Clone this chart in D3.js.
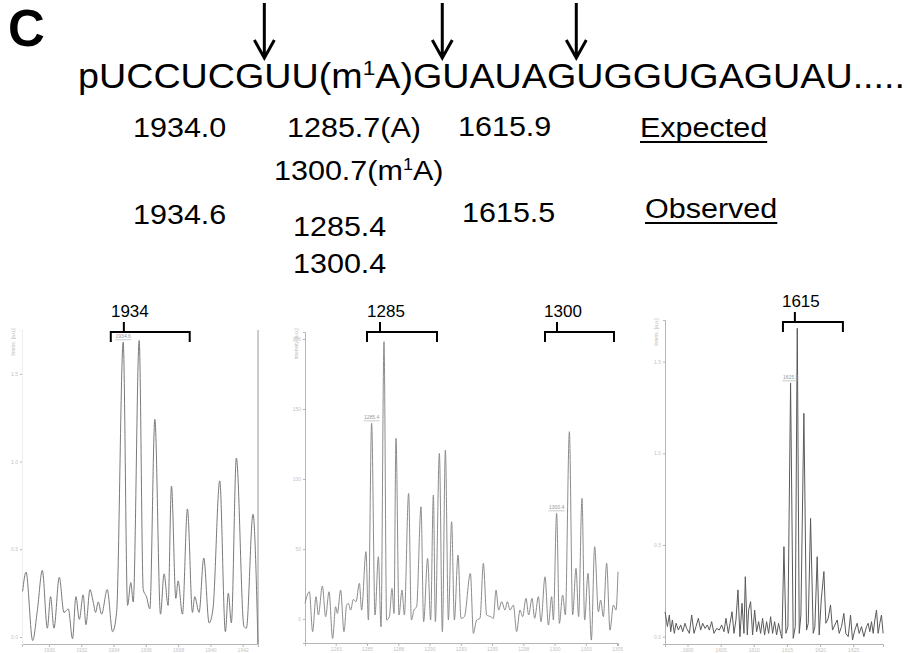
<!DOCTYPE html>
<html>
<head>
<meta charset="utf-8">
<script src="https://cdn.jsdelivr.net/npm/d3@7"></script>
<style>
  body { margin: 0; background: #fff; }
  svg { display: block; }
</style>
</head>
<body>
<div id="figure"></div>
<script>
// ---- sequence and masses ----
var seqHead = "pUCCUCGUU(m";
var seqSup = "1";
var seqTail = "A)GUAUAGUGGUGAGUAU.....";
var cleavageIdx = [7, 15, 20];           // RNase T1 cuts: character index right after each G

var expectedMasses = ["1934.0", "1285.7(A)", "1615.9"];
var observedMasses = ["1934.6", "1285.4", "1615.5"];
var observedExtra = "1300.4";

// ---- spectra: [m/z, intensity] ----
var spec1934 = [
  [1928.37,0.26],[1928.58,0.37],[1928.99,-0.02],[1929.28,0.15],[1929.59,0.38],[1929.90,0.05],
  [1930.10,0.23],[1930.31,0.05],[1930.64,0.34],[1930.93,0.14],[1931.20,0.16],[1931.46,-0.01],
  [1931.67,0.23],[1931.88,0.10],[1932.12,0.24],[1932.29,0.07],[1932.54,0.27],[1932.74,0.20],
  [1932.89,0.14],[1933.05,0.20],[1933.26,0.13],[1933.61,0.27],[1933.94,0.03],[1934.19,0.14],
  [1934.60,1.68],[1934.87,0.18],[1935.07,0.31],[1935.22,0.20],[1935.59,1.69],[1935.84,0.27],
  [1936.04,0.23],[1936.25,0.16],[1936.56,1.24],[1936.91,0.13],[1937.13,0.36],[1937.38,0.18],
  [1937.59,0.86],[1937.86,0.22],[1938.00,0.32],[1938.27,0.13],[1938.58,0.73],[1938.89,0.14],
  [1939.03,0.23],[1939.30,0.14],[1939.59,0.45],[1939.92,0.08],[1940.16,0.16],[1940.58,0.89],
  [1940.93,0.03],[1941.11,0.25],[1941.30,0.08],[1941.61,1.02],[1942.08,0.06],[1942.23,0.05],
  [1942.64,0.70],[1942.95,-0.04]
];

var spec1285 = [
  [1280.04,11.2],[1280.39,19.5],[1280.65,-9.0],[1280.92,16.0],[1281.11,2.9],[1281.43,23.6],
  [1281.69,1.7],[1281.96,19.5],[1282.25,-13.8],[1282.49,8.8],[1282.63,4.0],[1282.89,20.7],
  [1283.16,-9.0],[1283.37,10.0],[1283.51,11.2],[1283.69,6.4],[1283.91,14.0],[1284.12,12.4],
  [1284.39,25.5],[1284.57,6.4],[1284.92,48.1],[1285.11,-0.7],[1285.37,139.8],[1285.64,2.9],
  [1285.91,44.5],[1286.12,-5.5],[1286.36,198.1],[1286.57,-0.7],[1286.79,1.7],[1287.00,21.9],
  [1287.16,4.0],[1287.32,129.0],[1287.56,2.9],[1287.80,20.7],[1287.99,2.9],[1288.33,89.8],
  [1288.55,-0.7],[1288.76,6.4],[1288.97,8.8],[1289.32,80.2],[1289.53,-1.9],[1289.85,43.3],
  [1290.09,-0.7],[1290.31,88.6],[1290.47,-1.9],[1290.79,118.3],[1291.03,-9.0],[1291.27,120.7],
  [1291.51,-0.7],[1291.77,69.5],[1291.99,-0.7],[1292.28,45.7],[1292.52,0.5],[1292.79,1.7],
  [1293.27,32.6],[1293.51,-10.2],[1293.77,-0.7],[1294.04,0.5],[1294.31,39.8],[1294.57,2.9],
  [1294.89,1.7],[1295.11,0.5],[1295.32,20.7],[1295.53,6.4],[1295.77,12.4],[1296.04,6.4],
  [1296.23,12.4],[1296.44,6.4],[1296.71,10.0],[1296.97,-9.0],[1297.24,6.4],[1297.45,1.7],
  [1297.72,14.8],[1297.93,2.9],[1298.20,14.8],[1298.41,0.5],[1298.71,16.0],[1298.92,-1.9],
  [1299.24,30.2],[1299.51,-4.3],[1299.77,16.0],[1299.91,-0.7],[1300.17,75.5],[1300.39,-3.1],
  [1300.65,17.1],[1300.87,2.9],[1301.19,133.8],[1301.45,2.9],[1301.72,36.2],[1301.93,1.7],
  [1302.20,86.2],[1302.41,-0.7],[1302.68,32.6],[1302.95,-15.0],[1303.21,51.7],[1303.51,5.2],
  [1303.69,13.6],[1303.91,1.7],[1304.17,39.8],[1304.44,-7.9],[1304.71,10.0],[1304.92,6.4],
  [1305.08,33.8]
];

var spec1615 = [
  [1596.61,0.136],[1596.96,0.055],[1597.26,0.118],[1597.46,0.027],[1597.71,0.091],[1598.01,0.018],
  [1598.27,0.073],[1598.62,0.036],[1598.97,0.064],[1599.27,0.027],[1599.62,0.073],[1599.87,0.045],
  [1600.28,0.018],[1600.63,0.118],[1600.98,0.018],[1601.28,0.055],[1601.63,0.100],[1601.98,0.036],
  [1602.29,0.073],[1602.64,0.045],[1602.99,0.064],[1603.29,0.036],[1603.64,0.082],[1603.99,0.018],
  [1604.40,0.045],[1604.80,0.036],[1605.15,0.064],[1605.50,0.027],[1605.80,0.100],[1606.16,0.018],
  [1606.41,0.073],[1606.71,0.136],[1607.01,0.018],[1607.31,0.091],[1607.61,0.255],[1607.91,0.000],
  [1608.22,0.182],[1608.52,0.018],[1608.72,0.327],[1609.02,0.009],[1609.22,0.145],[1609.52,0.191],
  [1609.82,0.009],[1610.13,0.145],[1610.43,0.027],[1610.73,0.082],[1611.03,0.018],[1611.33,0.100],
  [1611.63,0.009],[1611.93,0.082],[1612.24,0.018],[1612.54,0.109],[1612.84,0.018],[1613.14,0.082],
  [1613.44,0.009],[1613.74,0.073],[1614.05,0.018],[1614.25,-0.009],[1614.55,0.491],[1614.85,0.018],
  [1615.15,0.055],[1615.55,1.382],[1615.95,-0.009],[1616.26,0.055],[1616.56,1.682],[1616.86,0.018],
  [1617.11,0.118],[1617.56,1.218],[1617.96,0.036],[1618.22,0.073],[1618.57,0.645],[1618.97,0.018],
  [1619.22,0.055],[1619.57,0.436],[1619.87,0.009],[1620.18,0.200],[1620.58,0.355],[1620.88,0.073],
  [1621.23,0.100],[1621.58,0.173],[1621.88,0.036],[1622.24,0.064],[1622.59,0.091],[1622.89,0.018],
  [1623.24,0.055],[1623.59,0.127],[1623.89,0.018],[1624.25,0.000],[1624.60,0.118],[1624.90,-0.018],
  [1625.25,0.036],[1625.60,0.073],[1625.90,0.018],[1626.26,0.055],[1626.61,0.000],[1627.01,0.055],
  [1627.26,0.073],[1627.51,0.027],[1627.76,0.082],[1628.02,0.018],[1628.27,0.091],[1628.52,0.145],
  [1628.77,0.018],[1629.02,0.073],[1629.27,0.118],[1629.52,0.018]
];

// axis ticks
var ticks1934x = [1930, 1932, 1934, 1936, 1938, 1940, 1942];
var ticks1934y = [0, 0.5, 1.0, 1.5];
var ticks1285x = [1282.5, 1285, 1287.5, 1290, 1292.5, 1295, 1297.5, 1300, 1302.5, 1305];
var ticks1285y = [0, 50, 100, 150, 200];
var ticks1615x = [1600, 1605, 1610, 1615, 1620, 1625];
var ticks1615y = [0, 0.5, 1.0, 1.5];

// isotope cluster brackets [label, from, to, stem] in m/z
var brackets1934 = [["1934", 1933.83, 1938.72, 1934.64]];
var brackets1285 = [["1285", 1285.0, 1290.6, 1286.04], ["1300", 1299.24, 1304.76, 1300.2]];
var brackets1615 = [["1615", 1614.4, 1623.45, 1616.2]];

// small peak annotations [label, m/z, intensity]
var picks1934 = [["1934.6", 1934.60, 1.68]];
var picks1285 = [["1285.4", 1285.37, 139.8], ["1300.4", 1300.17, 75.5]];
var picks1615 = [["1615.5", 1615.55, 1.382]];

var width = 910, height = 653;
var font = "'Liberation Sans', Arial, Helvetica, sans-serif";

var svg = d3.select("#figure")
  .append("svg")
    .attr("width", width)
    .attr("height", height);

svg.append("rect").attr("width", width).attr("height", height).attr("fill", "#fff");

// panel letter
svg.append("text")
  .attr("x", 8)
  .attr("y", 46)
  .style("font-family", font)
  .style("font-weight", "bold")
  .style("font-size", "51px")
  .text("C");

// RNA sequence (original figure is a little stretched horizontally)
var seq = svg.append("text")
  .attr("x", 78)
  .attr("y", 88)
  .attr("textLength", 827)
  .attr("lengthAdjust", "spacingAndGlyphs")
  .style("font-family", font)
  .style("font-size", "35px");
seq.append("tspan").text(seqHead);
seq.append("tspan").attr("dy", -13).style("font-size", "21px").text(seqSup);
seq.append("tspan").attr("dy", 13).text(seqTail);

// cleavage arrows
cleavageIdx.forEach(function (i) {
  var x = seq.node().getStartPositionOfChar(i).x;
  svg.append("path")
    .attr("d", "M" + x + ",3 V57 M" + (x - 10) + ",40 L" + x + ",58 L" + (x + 10) + ",40")
    .attr("fill", "none")
    .attr("stroke", "#000")
    .attr("stroke-width", 3);
});

// mass table
function massText(x, y, parts, underline) {
  var t = svg.append("text")
    .attr("x", x)
    .attr("y", y)
    .style("font-family", font)
    .style("font-size", "27px");
  parts.forEach(function (p) {
    if (p.sup) {
      t.append("tspan").attr("dy", -10).style("font-size", "16px").text(p.s);
    } else {
      t.append("tspan").attr("dy", p.down ? 10 : 0).text(p.s);
    }
  });
  var natural = t.node().getComputedTextLength();
  t.attr("textLength", natural * 1.13).attr("lengthAdjust", "spacingAndGlyphs");
  if (underline) {
    var b = t.node().getBBox();
    svg.append("line")
      .attr("x1", b.x).attr("x2", b.x + b.width)
      .attr("y1", y + 5).attr("y2", y + 5)
      .attr("stroke", "#000").attr("stroke-width", 2);
  }
  return t;
}

massText(133, 137, [{s: expectedMasses[0]}]);
massText(287, 137, [{s: expectedMasses[1]}]);
massText(458, 136, [{s: expectedMasses[2]}]);
massText(640, 137, [{s: "Expected"}], true);
massText(274, 180, [{s: "1300.7(m"}, {s: "1", sup: true}, {s: "A)", down: true}]);

massText(133, 224, [{s: observedMasses[0]}]);
massText(293, 236, [{s: observedMasses[1]}]);
massText(462, 222, [{s: observedMasses[2]}]);
massText(645, 218, [{s: "Observed"}], true);
massText(293, 273, [{s: observedExtra}]);

// spectra panels
function drawPanel(cfg) {
  var x = d3.scaleLinear().domain(cfg.xDomain).range(cfg.xRange);
  var y = d3.scaleLinear().domain(cfg.yDomain).range(cfg.yRange);
  var g = svg.append("g");

  var xAxis = g.append("g")
    .attr("transform", "translate(0," + cfg.yRange[0] + ")")
    .call(d3.axisBottom(x).tickValues(cfg.xTicks).tickSize(3).tickPadding(1).tickFormat(d3.format("d")));
  var yAxis = g.append("g")
    .attr("transform", "translate(" + cfg.xRange[0] + ",0)")
    .call(d3.axisLeft(y).tickValues(cfg.yTicks).tickSize(2).tickPadding(2));
  [xAxis, yAxis].forEach(function (a) {
    a.selectAll(".tick line").attr("stroke", "#b5b5b5");
    a.selectAll(".tick text").attr("fill", "#c4c4c4").style("font-size", "5px").style("font-family", font);
  });
  xAxis.select(".domain").attr("stroke", "#b5b5b5");
  yAxis.select(".domain").attr("stroke", cfg.leftLine ? "#b5b5b5" : "#eeeeee");

  if (cfg.rightLine) {
    g.append("line")
      .attr("x1", cfg.xRange[1]).attr("x2", cfg.xRange[1])
      .attr("y1", cfg.yRange[1]).attr("y2", cfg.yRange[0])
      .attr("stroke", "#999");
  }

  // y label
  g.append("text")
    .attr("transform", "translate(" + (cfg.xRange[0] - 7) + "," + (cfg.yRange[1] + 12) + ") rotate(-90)")
    .attr("text-anchor", "middle")
    .attr("fill", "#bbb")
    .style("font-family", font)
    .style("font-size", "5px")
    .text(cfg.yLabel);

  var line = d3.line()
    .x(function (d) { return x(d[0]); })
    .y(function (d) { return y(d[1]); })
    .curve(cfg.curve);

  g.append("path")
    .datum(cfg.data)
    .attr("d", line)
    .attr("fill", "none")
    .attr("stroke", cfg.color)
    .attr("stroke-width", 1);

  // peak picks
  cfg.picks.forEach(function (p) {
    var px = x(p[1]), py = y(p[2]) - 4;
    g.append("text")
      .attr("x", px).attr("y", py)
      .attr("text-anchor", "middle")
      .attr("fill", "#999")
      .style("font-family", font)
      .style("font-size", "5px")
      .text(p[0]);
    g.append("line")
      .attr("x1", px - 8).attr("x2", px + 8)
      .attr("y1", py + 1.5).attr("y2", py + 1.5)
      .attr("stroke", "#aaa").attr("stroke-width", 0.6);
  });

  // cluster brackets
  cfg.brackets.forEach(function (b) {
    var yb = cfg.bracketY;
    g.append("path")
      .attr("d", "M" + x(b[1]) + "," + (yb + 10) + " V" + yb + " H" + x(b[2]) + " V" + (yb + 10) +
                 " M" + x(b[3]) + "," + yb + " V" + (yb - 10))
      .attr("fill", "none")
      .attr("stroke", "#000")
      .attr("stroke-width", 2);
    g.append("text")
      .attr("x", x(b[3]) + 6)
      .attr("y", yb - 15)
      .attr("text-anchor", "middle")
      .style("font-family", font)
      .style("font-size", "17px")
      .text(b[0]);
  });
}

drawPanel({
  data: spec1934, xDomain: [1928.33, 1942.95], xRange: [22, 258],
  yDomain: [-0.04, 1.75], yRange: [644, 330],
  xTicks: ticks1934x, yTicks: ticks1934y, color: "#7a7a7a",
  curve: d3.curveMonotoneX, leftLine: false, rightLine: true, yLabel: "Intens. [a.u.]",
  brackets: brackets1934, bracketY: 332, picks: picks1934
});

drawPanel({
  data: spec1285, xDomain: [1280.04, 1305.08], xRange: [305, 618],
  yDomain: [-17.1, 205], yRange: [643, 332],
  xTicks: ticks1285x, yTicks: ticks1285y, color: "#8c8c8c",
  curve: d3.curveMonotoneX, leftLine: true, rightLine: false, yLabel: "Intensity [a.u.]",
  brackets: brackets1285, bracketY: 332, picks: picks1285
});

drawPanel({
  data: spec1615, xDomain: [1596.6, 1629.5], xRange: [665, 883],
  yDomain: [-0.04, 1.727], yRange: [644, 320],
  xTicks: ticks1615x, yTicks: ticks1615y, color: "#5a5a5a",
  curve: d3.curveLinear, leftLine: true, rightLine: false, yLabel: "Intens. [a.u.]",
  brackets: brackets1615, bracketY: 322, picks: picks1615
});
</script>
</body>
</html>
